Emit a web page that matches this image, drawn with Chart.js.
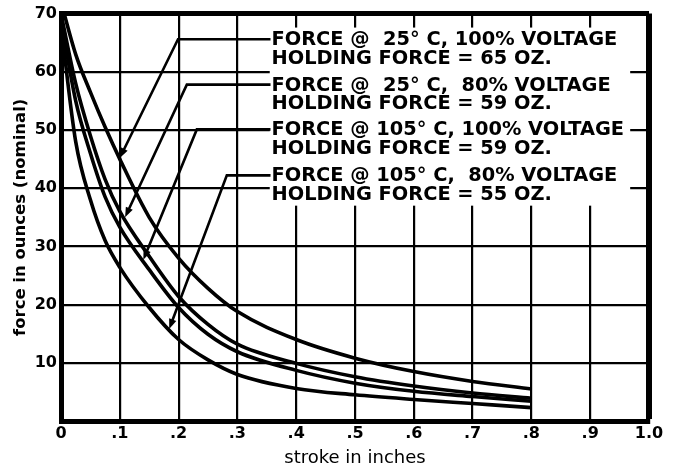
<!DOCTYPE html>
<html><head><meta charset="utf-8">
<script src="https://cdn.jsdelivr.net/npm/chart.js@4.4.1/dist/chart.umd.min.js"></script>
<style>html,body{margin:0;padding:0;background:#fff}canvas{display:block}</style>
</head><body>
<canvas id="c" width="678" height="470"></canvas>
<script>
// ---- data ----
const strokeIn     = [0, 0.025, 0.05, 0.075, 0.1, 0.15, 0.2, 0.25, 0.3, 0.4, 0.5, 0.6, 0.7, 0.8];
const force25c100  = [72, 63, 56.5, 50.5, 45, 35, 28, 22.8, 18.8, 14, 10.8, 8.5, 6.8, 5.5];
const force25c80   = [70, 58, 49, 41.5, 36, 28.3, 21.4, 16.6, 13.2, 9.9, 7.6, 6.0, 4.8, 3.9];
const force105c100 = [69, 55, 46, 38.5, 33.3, 26, 19.5, 14.9, 11.9, 8.7, 6.5, 5.1, 4.2, 3.4];
const force105c80  = [68, 48, 38, 31, 26.4, 19.5, 14, 10.5, 8, 5.6, 4.5, 3.7, 3.0, 2.3];
const xTicks = ["0", ".1", ".2", ".3", ".4", ".5", ".6", ".7", ".8", ".9", "1.0"];
const yTicks = ["", "10", "20", "30", "40", "50", "60", "70"];
const labelTop = ["FORCE @  25° C, 100% VOLTAGE", "FORCE @  25° C,  80% VOLTAGE",
                  "FORCE @ 105° C, 100% VOLTAGE", "FORCE @ 105° C,  80% VOLTAGE"];
const labelBottom = ["HOLDING FORCE = 65 OZ.", "HOLDING FORCE = 59 OZ.",
                     "HOLDING FORCE = 59 OZ.", "HOLDING FORCE = 55 OZ."];
const seriesList = [force25c100, force25c80, force105c100, force105c80];

// ---- callout geometry (data units) ----
const callouts = [
  {y: 65.6, kneeX: 0.199, tipX: 0.100, tipY: 45.2},
  {y: 57.8, kneeX: 0.214, tipX: 0.109, tipY: 35.0},
  {y: 50.1, kneeX: 0.231, tipX: 0.140, tipY: 27.7},
  {y: 42.2, kneeX: 0.282, tipX: 0.184, tipY: 15.8}
];
const textX = 0.358;
const box = {x0: 0.355, x1: 0.968, y0: 37.0, y1: 67.6};

const FONT = '"DejaVu Sans", "Liberation Sans", sans-serif';

const annot = {
  id: 'annot',
  beforeDatasetsDraw(chart) {
    const {ctx, scales: {x, y}} = chart;
    ctx.save();
    ctx.fillStyle = '#fff';
    const px0 = x.getPixelForValue(box.x0), px1 = x.getPixelForValue(box.x1);
    const py0 = y.getPixelForValue(box.y1), py1 = y.getPixelForValue(box.y0);
    ctx.fillRect(px0, py0, px1 - px0, py1 - py0);
    ctx.restore();
  },
  afterDatasetsDraw(chart) {
    const {ctx, scales: {x, y}} = chart;
    ctx.save();
    ctx.font = 'bold 100px ' + FONT;
    const w = ctx.measureText(labelTop[2]).width;
    const fs = 100 * 353 / w;
    ctx.font = 'bold ' + fs.toFixed(2) + 'px ' + FONT;
    ctx.fillStyle = '#000';
    ctx.strokeStyle = '#000';
    ctx.textBaseline = 'middle';
    ctx.textAlign = 'left';
    const tx = x.getPixelForValue(textX);
    callouts.forEach((c, i) => {
      const ly = y.getPixelForValue(c.y);
      ctx.fillText(labelTop[i], tx, ly + 1);
      ctx.fillText(labelBottom[i], tx, ly + 19.5);
      const kx = x.getPixelForValue(c.kneeX);
      const ex = x.getPixelForValue(c.tipX), ey = y.getPixelForValue(c.tipY);
      ctx.lineWidth = 2.6;
      ctx.beginPath();
      ctx.moveTo(tx - 1, ly);
      ctx.lineTo(kx, ly);
      const ang = Math.atan2(ey - ly, ex - kx);
      const L = 10;
      ctx.lineTo(ex - Math.cos(ang) * (L - 2), ey - Math.sin(ang) * (L - 2));
      ctx.stroke();
      ctx.beginPath();
      ctx.moveTo(ex, ey);
      ctx.lineTo(ex - L * Math.cos(ang) + 3.8 * Math.sin(ang), ey - L * Math.sin(ang) - 3.8 * Math.cos(ang));
      ctx.lineTo(ex - L * Math.cos(ang) - 3.8 * Math.sin(ang), ey - L * Math.sin(ang) + 3.8 * Math.cos(ang));
      ctx.closePath();
      ctx.fill();
    });
    ctx.restore();
  }
};

const datasets = seriesList.map(s => ({
  data: strokeIn.map((v, i) => ({x: v, y: s[i]})),
  showLine: true,
  borderColor: '#000',
  borderWidth: 3.6,
  pointRadius: 0,
  cubicInterpolationMode: 'monotone',
  clip: 0,
  fill: false
}));

new Chart(document.getElementById('c'), {
  type: 'scatter',
  data: {datasets},
  plugins: [annot],
  options: {
    responsive: false,
    animation: false,
    events: [],
    layout: {padding: {top: 12, right: 29, left: 0, bottom: 0}},
    plugins: {legend: {display: false}, tooltip: {enabled: false}},
    scales: {
      x: {
        type: 'linear', min: 0, max: 1,
        afterFit: s => { s.height = 49; },
        border: {display: true, color: '#000', width: 5},
        grid: {
          color: '#000', drawTicks: false,
          lineWidth: ctx => (ctx.tick && ctx.tick.value >= 0.999) ? 6 : 2.2
        },
        ticks: {
          stepSize: 0.1, autoSkip: false, maxRotation: 0, padding: 3,
          color: '#000', font: {family: FONT, size: 16, weight: 'bold'},
          callback: (v) => xTicks[Math.round(v * 10)]
        },
        title: {
          display: true, text: 'stroke in inches', color: '#000',
          font: {family: FONT, size: 18}, padding: {top: 0, bottom: 1}
        }
      },
      y: {
        type: 'linear', min: 0, max: 70,
        afterFit: s => { s.width = 61; },
        border: {display: true, color: '#000', width: 5},
        grid: {
          color: '#000', drawTicks: false,
          lineWidth: ctx => (ctx.tick && ctx.tick.value >= 70) ? 5 : 2.2
        },
        ticks: {
          stepSize: 10, autoSkip: false, padding: 4,
          color: '#000', font: {family: FONT, size: 16, weight: 'bold'},
          callback: (v) => yTicks[Math.round(v / 10)]
        },
        title: {
          display: true, text: 'force in ounces (nominal)', color: '#000',
          font: {family: FONT, size: 16.5, weight: 'bold'}, padding: {top: 11, bottom: 0}
        }
      }
    }
  }
});
</script>
</body></html>
